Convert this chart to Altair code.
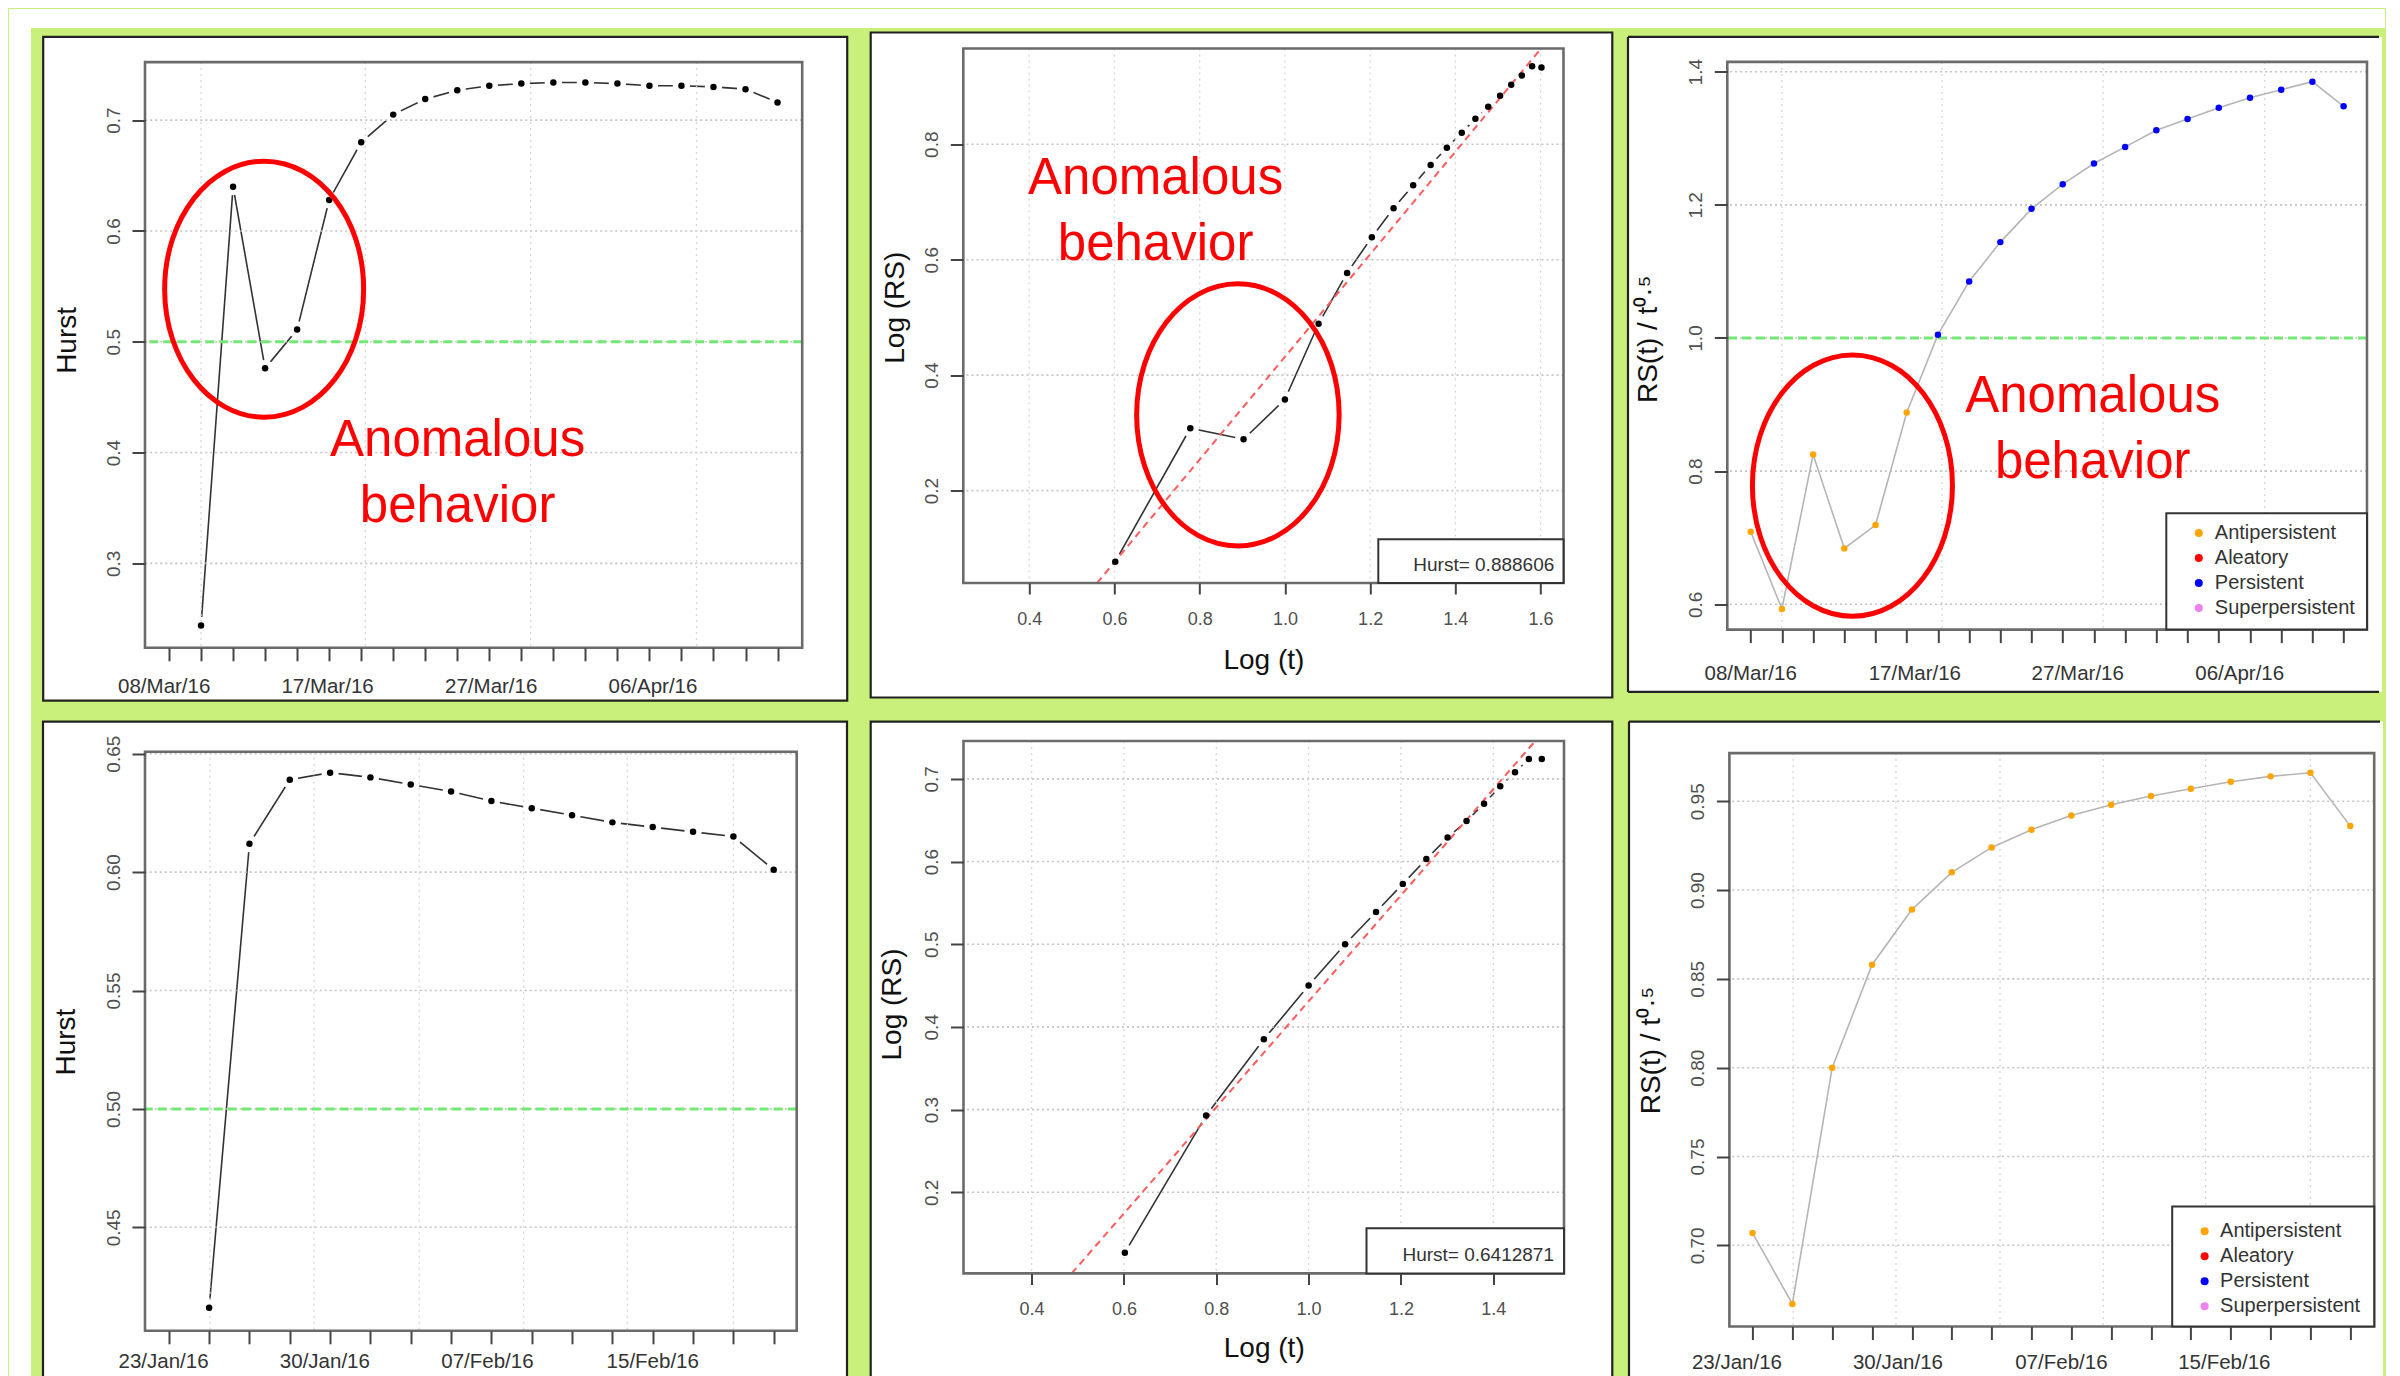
import altair as alt
import pandas as pd

FONT = "Liberation Sans"
BG_GREEN = "#c8f07a"
BORDER = "#222222"
FRAME = "#6b6b6b"
GRID_COL = "#c4c4c4"
REF_GREEN = "#74e874"
RED = "#ff0000"
FIT_RED = "#ff5c5c"
TICK_COL = "#444444"
LABEL_COL = "#505050"

# ---------------- data ----------------
# top row (time index panels, 2-day steps)
TOP_TICKS = list(range(0, 20))
TOP_VGRID = [1.0, 6.13, 11.29, 16.47]
TOP_DATES = ["08/Mar/16", "17/Mar/16", "27/Mar/16", "06/Apr/16"]
TL_DATE_POS = [-0.15, 4.95, 10.06, 15.11]
TR_DATE_POS = [0.0, 5.26, 10.48, 15.67]

TL_IDX = [1, 2, 3, 4, 5, 6, 7, 8, 9, 10, 11, 12, 13, 14, 15, 16, 17, 18, 19]
TL_HURST = [0.244, 0.640, 0.476, 0.511, 0.628, 0.680, 0.705, 0.719, 0.727, 0.731,
            0.733, 0.734, 0.734, 0.733, 0.731, 0.731, 0.730, 0.728, 0.716]
TL_YTICKS = [0.3, 0.4, 0.5, 0.6, 0.7]

TR_IDX = [0, 1, 2, 3, 4, 5, 6, 7, 8, 9, 10, 11, 12, 13, 14, 15, 16, 17, 18, 19]
TR_RATIO = [0.709, 0.593, 0.825, 0.684, 0.719, 0.888, 1.005, 1.085, 1.144, 1.194,
            1.231, 1.262, 1.287, 1.312, 1.329, 1.346, 1.361, 1.373, 1.385, 1.348]
TR_CLASS = ["Antipersistent", "Antipersistent", "Antipersistent", "Antipersistent",
            "Antipersistent", "Antipersistent", "Persistent", "Persistent", "Persistent",
            "Persistent", "Persistent", "Persistent", "Persistent", "Persistent",
            "Persistent", "Persistent", "Persistent", "Persistent", "Persistent", "Persistent"]
TR_YTICKS = [0.6, 0.8, 1.0, 1.2, 1.4]

TM_LOGT = [0.602, 0.778, 0.903, 1.000, 1.079, 1.146, 1.204, 1.255, 1.301, 1.342,
           1.380, 1.415, 1.447, 1.477, 1.505, 1.531, 1.556, 1.580, 1.602]
TM_LOGRS = [0.077, 0.308, 0.289, 0.358, 0.489, 0.577, 0.639, 0.689, 0.729, 0.764,
            0.794, 0.820, 0.844, 0.865, 0.884, 0.903, 0.919, 0.935, 0.933]
TM_XTICKS = [0.4, 0.6, 0.8, 1.0, 1.2, 1.4, 1.6]
TM_YTICKS = [0.2, 0.4, 0.6, 0.8]
HURST_TM = 0.888606
INTERCEPT_TM = -0.457

# bottom row
BOT_TICKS = list(range(0, 16))
BOT_VGRID = [1.02, 3.6, 6.21, 8.8, 11.37, 14.0]
BOT_DATES = ["23/Jan/16", "30/Jan/16", "07/Feb/16", "15/Feb/16"]
BL_DATE_POS = [-0.13, 3.87, 7.9, 12.0]
BR_DATE_POS = [-0.39, 3.65, 7.75, 11.84]

BL_IDX = [1, 2, 3, 4, 5, 6, 7, 8, 9, 10, 11, 12, 13, 14, 15]
BL_HURST = [0.416, 0.612, 0.639, 0.642, 0.640, 0.637, 0.634, 0.630, 0.627, 0.624,
            0.621, 0.619, 0.617, 0.615, 0.601]
BL_YTICKS = [0.45, 0.50, 0.55, 0.60, 0.65]

BR_IDX = [0, 1, 2, 3, 4, 5, 6, 7, 8, 9, 10, 11, 12, 13, 14, 15]
BR_RATIO = [0.707, 0.667, 0.800, 0.858, 0.889, 0.910, 0.924, 0.934, 0.942, 0.948,
            0.953, 0.957, 0.961, 0.964, 0.966, 0.936]
BR_CLASS = ["Antipersistent", "Antipersistent", "Antipersistent", "Antipersistent",
            "Antipersistent", "Antipersistent", "Antipersistent", "Antipersistent",
            "Antipersistent", "Antipersistent", "Antipersistent", "Antipersistent",
            "Antipersistent", "Antipersistent", "Antipersistent", "Antipersistent"]
BR_YTICKS = [0.70, 0.75, 0.80, 0.85, 0.90, 0.95]

BM_LOGT = [0.602, 0.778, 0.903, 1.000, 1.079, 1.146, 1.204, 1.255, 1.301, 1.342,
           1.380, 1.415, 1.447, 1.477, 1.505]
BM_LOGRS = [0.127, 0.293, 0.385, 0.450, 0.500, 0.539, 0.573, 0.603, 0.629, 0.649,
            0.670, 0.691, 0.708, 0.724, 0.724]
BM_XTICKS = [0.4, 0.6, 0.8, 1.0, 1.2, 1.4]
BM_YTICKS = [0.2, 0.3, 0.4, 0.5, 0.6, 0.7]
HURST_BM = 0.6412871
INTERCEPT_BM = -0.2103

CATS = ["Antipersistent", "Aleatory", "Persistent", "Superpersistent"]
CAT_COLORS = ["#FFA500", "#FF0000", "#0000FF", "#EE82EE"]

NOTE_LINE1 = "Anomalous"
NOTE_LINE2 = "behavior"

ONE = pd.DataFrame({"k": [0]})

# page layout (pixels): plot origins and the white page-margin strips
ROW_Y = [49.0, 743.0]          # group origin (top of view) of each row
COL0_X = 144.0                 # origin of the left column
PAGE_RIGHT = 2384.0
ROW_GAP = -3.5                 # vertical concat spacing (compensates layout rounding)


# ---------------- helpers ----------------
def deco_rect(x0, x1, y0, y1, **kw):
    return alt.Chart(ONE).mark_rect(**kw).encode(
        x=alt.value(x0), x2=alt.value(x1), y=alt.value(y0), y2=alt.value(y1))


def deco_line(x0, y0, x1, y1, **kw):
    return alt.Chart(ONE).mark_rule(**kw).encode(
        x=alt.value(x0), x2=alt.value(x1), y=alt.value(y0), y2=alt.value(y1))


def y_axis(values, fmt, title, tx, ty):
    return alt.Axis(values=values, format=fmt, title=title, grid=False, domain=False,
                    ticks=True, tickSize=13, tickWidth=2, tickColor=TICK_COL,
                    labelFont=FONT, labelFontSize=19, labelColor=LABEL_COL,
                    labelAngle=270, labelAlign="center", labelBaseline="bottom",
                    labelPadding=9, labelOverlap=False,
                    titleFont=FONT, titleFontSize=28, titleFontWeight="normal",
                    titleColor="#111111", titleAngle=270, titleX=tx, titleY=ty,
                    titleAlign="center", titleBaseline="middle", zindex=1)


def ellipse_shape(rx):
    a = round(4 * rx, 4)
    return f"M {-a} 0 A {a} 4 0 0 1 {a} 0 A {a} 4 0 0 1 {-a} 0 Z"


def build_panel(c):
    w, h, ext = c["w"], c["h"], c.get("ext", 0.0)
    H = h + ext
    y_lo, y_hi = c["ydom"]
    y_top = y_hi + ext * (y_hi - y_lo) / h          # view extended upward by ext px
    xs = alt.Scale(domain=c["xdom"], nice=False, zero=False)
    ys = alt.Scale(domain=[y_lo, y_top], nice=False, zero=False)
    xaxis = c["xaxis"]
    yaxis = y_axis(c["yticks"], c["yfmt"], c["ytitle"], c["ytx"], c["yty"] + ext)

    def X(f):
        return alt.X(f, type="quantitative", scale=xs, axis=xaxis)

    def Y(f):
        return alt.Y(f, type="quantitative", scale=ys, axis=yaxis)

    layers = []
    ox, oy = c["origin_x"], ROW_Y[c["row"]]
    for (px0, px1, py0, py1) in c.get("strips", []):
        layers.append(deco_rect(px0 - ox, px1 - ox, py0 - oy, py1 - oy, fill="white"))

    x0, x1, r0, r1 = c["rect"]
    y0, y1 = r0 + ext, r1 + ext
    if c.get("open_right"):
        xr = PAGE_RIGHT - ox
        layers.append(deco_rect(x0, xr, y0, y1, fill="white"))
        layers.append(deco_line(x0, y0, x0, y1, color=BORDER, strokeWidth=2.2))
        layers.append(deco_line(x0, y0, xr - 3, y0, color=BORDER, strokeWidth=2.2))
        if c.get("bottom_border"):
            layers.append(deco_line(x0, y1, xr - 3, y1, color=BORDER, strokeWidth=2.2))
    else:
        layers.append(deco_rect(x0, x1, y0, y1, fill="white", stroke=BORDER, strokeWidth=2.2))

    series = pd.DataFrame({"x": c["sx"], "y": c["sy"]})
    if c["kind"] == "black":
        layers.append(alt.Chart(series).mark_line(color="#333333", strokeWidth=1.6).encode(
            x=X("x"), y=Y("y")))
        layers.append(alt.Chart(series).mark_circle(color="white", size=300, opacity=1).encode(
            x=X("x"), y=Y("y")))

    # grid
    layers.append(alt.Chart(pd.DataFrame({"g": c["yticks"]})).mark_rule(
        color=GRID_COL, strokeDash=[2, 3], strokeWidth=1.6).encode(y=Y("g")))
    layers.append(alt.Chart(pd.DataFrame({"g": c["vgrid"]})).mark_rule(
        color="#d6d6d6", strokeDash=[2, 4], strokeWidth=1.3).encode(
        x=X("g"), y=alt.value(ext), y2=alt.value(H)))

    if c.get("ref") is not None:
        layers.append(alt.Chart(pd.DataFrame({"r": [c["ref"]]})).mark_rule(
            color=REF_GREEN, strokeDash=[9, 5], strokeWidth=3).encode(y=Y("r")))

    if c.get("fit") is not None:
        hurst, icpt = c["fit"]
        fx = [max(c["xdom"][0], (y_lo - icpt) / hurst), min(c["xdom"][1], (y_hi - icpt) / hurst)]
        fit = pd.DataFrame({"x": fx, "y": [icpt + hurst * v for v in fx]})
        layers.append(alt.Chart(fit).mark_line(color=FIT_RED, strokeDash=[7, 5],
                                               strokeWidth=2).encode(x=X("x"), y=Y("y")))

    if c["kind"] == "black":
        layers.append(alt.Chart(series).mark_circle(color="black", size=42, opacity=1).encode(
            x=X("x"), y=Y("y")))
    else:
        series["cls"] = c["classes"]
        layers.append(alt.Chart(series).mark_line(color="#b5b5b5", strokeWidth=1.6).encode(
            x=X("x"), y=Y("y")))
        lx, ly, lo = c["legend_xy"]
        layers.append(alt.Chart(series).mark_circle(size=42, opacity=1).encode(
            x=X("x"), y=Y("y"),
            color=alt.Color("cls:N", scale=alt.Scale(domain=CATS, range=CAT_COLORS),
                            legend=alt.Legend(title=None, orient="none", legendX=lx,
                                              legendY=ly + ext, padding=0, labelFont=FONT,
                                              labelFontSize=20, labelColor="#333333",
                                              symbolType="circle", symbolSize=64,
                                              symbolStrokeWidth=0, rowPadding=5,
                                              labelOffset=lo, zindex=1))))

    # date labels
    if c.get("dates") is not None:
        dl = pd.DataFrame({"pos": c["date_pos"], "lab": c["dates"]})
        layers.append(alt.Chart(dl).mark_text(font=FONT, fontSize=20.5, color="#333333",
                                              align="center", baseline="middle").encode(
            x=X("pos"), y=alt.value(H + c["date_dy"]), text="lab:N"))

    # plot frame
    layers.append(deco_rect(0, w, ext, H, fill="white", fillOpacity=0, stroke=FRAME,
                            strokeWidth=2.6))

    # legend box
    if c.get("lbox") is not None:
        bx, by = c["lbox"]
        layers.append(deco_rect(bx, w, by + ext, H, fill="white", stroke="#333333",
                                strokeWidth=2))
    if c.get("hurst_text") is not None:
        txt, tx, ty = c["hurst_text"]
        layers.append(alt.Chart(ONE).mark_text(text=txt, font=FONT, fontSize=19,
                                               color="#333333", align="right",
                                               baseline="alphabetic").encode(
            x=alt.value(tx), y=alt.value(ty + ext)))

    # annotation
    if c.get("ellipse") is not None:
        ex, ey, ew, eh = c["ellipse"]
        layers.append(alt.Chart(pd.DataFrame({"x": [ex], "y": [ey]})).mark_point(
            shape=ellipse_shape(ew / eh), size=(eh / 4) ** 2, filled=False, color=RED,
            stroke=RED, strokeWidth=5, opacity=1).encode(x=X("x"), y=Y("y")))
    if c.get("note") is not None:
        nx, ny = c["note"]
        nd = pd.DataFrame({"x": [nx], "y": [ny]})
        layers.append(alt.Chart(nd).mark_text(
            text=NOTE_LINE1, font=FONT, fontSize=51, color=RED, align="center",
            baseline="alphabetic").encode(x=X("x"), y=Y("y")))
        layers.append(alt.Chart(nd).mark_text(
            text=NOTE_LINE2, font=FONT, fontSize=51, color=RED, align="center",
            baseline="alphabetic", dy=66.5).encode(x=X("x"), y=Y("y")))

    return alt.layer(*layers).properties(width=w, height=H)


def idx_axis(values):
    return alt.Axis(values=values, labels=False, title=None, grid=False, domain=False,
                    ticks=True, tickSize=13, tickWidth=2, tickColor=TICK_COL, zindex=1)


def log_axis(values, w, ty):
    return alt.Axis(values=values, format=".1f", title="Log (t)", grid=False, domain=False,
                    ticks=True, tickSize=11, tickWidth=2, tickColor=TICK_COL,
                    labelFont=FONT, labelFontSize=18, labelColor=LABEL_COL,
                    labelPadding=16, labelFlush=False,
                    titleFont=FONT, titleFontSize=28, titleFontWeight="normal",
                    titleColor="#111111", titleX=w / 2, titleY=ty,
                    titleAlign="center", titleBaseline="middle", zindex=1)


RATIO_TITLE = "RS(t) / t\u2070\u00b7\u2075"

# ---------------- panels ----------------
# white band along the top of the page (a thin chart of its own)
BAND = deco_rect(8.0 - COL0_X, PAGE_RIGHT - COL0_X, 0, 19, fill="white").properties(
    width=1, height=1)

w, h = 657.2, 585.7
TL = build_panel(dict(
    w=w, h=h, ext=13.6, row=0, origin_x=COL0_X, kind="black",
    strips=[(8.0, 30.0, 27.0, 712.0)],
    xdom=[-0.75, 19.77], ydom=[0.2238, 0.7524],
    xaxis=idx_axis(TOP_TICKS), yticks=TL_YTICKS, yfmt=".1f", ytitle="Hurst",
    ytx=-77.7, yty=277.8, rect=(-101.8, w + 45.0, -25.2, h + 52.9),
    sx=TL_IDX, sy=TL_HURST, vgrid=TOP_VGRID, ref=0.5,
    dates=TOP_DATES, date_pos=TL_DATE_POS, date_dy=38.7,
    ellipse=(2.97, 0.5475, 199, 256), note=(9.01, 0.3972)))

w, h = 600.2, 534.5
TM = build_panel(dict(
    w=w, h=h, ext=0.0, row=0, origin_x=963.3, kind="black",
    xdom=[0.2454, 1.6537], ydom=[0.0400, 0.9658],
    xaxis=log_axis(TM_XTICKS, w, 77.2), yticks=TM_YTICKS, yfmt=".1f", ytitle="Log (RS)",
    ytx=-68.3, yty=258.7, rect=(-92.6, w + 48.8, -16.0, h + 114.5),
    sx=TM_LOGT, sy=TM_LOGRS, vgrid=TM_XTICKS, fit=(HURST_TM, INTERCEPT_TM),
    lbox=(415.0, 490.7), hurst_text=(f"Hurst= {HURST_TM}", w - 9.2, h - 12.1),
    ellipse=(0.8897, 0.3312, 202.5, 262.2), note=(0.6966, 0.7142)))

w, h = 639.7, 567.7
TR = build_panel(dict(
    w=w, h=h, ext=13.4, row=0, origin_x=1729.3, kind="ratio",
    xdom=[-0.75, 19.75], ydom=[0.562, 1.4147],
    xaxis=idx_axis(TOP_TICKS), yticks=TR_YTICKS, yfmt=".1f", ytitle=RATIO_TITLE,
    ytx=-79.3, yty=277.0, rect=(-99.3, w, -25.0, h + 62.3),
    open_right=True, bottom_border=True,
    sx=TR_IDX, sy=TR_RATIO, classes=TR_CLASS, vgrid=TOP_VGRID, ref=1.0,
    dates=TOP_DATES, date_pos=TR_DATE_POS, date_dy=44.3,
    lbox=(439.0, 451.3), legend_xy=(461.5, 461.1, 6),
    ellipse=(3.26, 0.7782, 200, 261.3), note=(10.96, 0.8894)))

w, h = 651.7, 579.0
BL = build_panel(dict(
    w=w, h=h, ext=10.8, row=1, origin_x=COL0_X, kind="black",
    strips=[(8.0, 30.0, 712.0, 1420.0)],
    xdom=[-0.59, 15.57], ydom=[0.4063, 0.6508],
    xaxis=idx_axis(BOT_TICKS), yticks=BL_YTICKS, yfmt=".2f", ytitle="Hurst",
    ytx=-79.0, yty=289.8, rect=(-102.0, w + 50.3, -30.2, h + 60),
    sx=BL_IDX, sy=BL_HURST, vgrid=BOT_VGRID, ref=0.5,
    dates=BOT_DATES, date_pos=BL_DATE_POS, date_dy=31.5))

w, h = 600.5, 532.4
BM = build_panel(dict(
    w=w, h=h, ext=0.0, row=1, origin_x=963.5, kind="black",
    xdom=[0.2525, 1.5531], ydom=[0.1019, 0.7458],
    xaxis=log_axis(BM_XTICKS, w, 75.4), yticks=BM_YTICKS, yfmt=".1f", ytitle="Log (RS)",
    ytx=-71.5, yty=263.0, rect=(-92.8, w + 48.3, -19.4, h + 130),
    sx=BM_LOGT, sy=BM_LOGRS, vgrid=BM_XTICKS, fit=(HURST_BM, INTERCEPT_BM),
    lbox=(403.0, 487.2), hurst_text=(f"Hurst= {HURST_BM}", w - 10.0, h - 12.3)))

w, h = 644.8, 573.4
BR = build_panel(dict(
    w=w, h=h, ext=12.1, row=1, origin_x=1730.4, kind="ratio",
    xdom=[-0.58, 15.6], ydom=[0.6543, 0.9771],
    xaxis=idx_axis(BOT_TICKS), yticks=BR_YTICKS, yfmt=".2f", ytitle=RATIO_TITLE,
    ytx=-78.1, yty=297.0, rect=(-100.4, w, -31.5, h + 60),
    open_right=True, bottom_border=False,
    sx=BR_IDX, sy=BR_RATIO, classes=BR_CLASS, vgrid=BOT_VGRID,
    dates=BOT_DATES, date_pos=BR_DATE_POS, date_dy=36.0,
    lbox=(442.8, 453.4), legend_xy=(465.2, 468.1, 5.5)))


def indep(ch):
    return ch.resolve_scale(color="independent").resolve_legend(color="independent")


row1 = indep(alt.hconcat(TL, indep(alt.hconcat(TM, TR, spacing=12)), spacing=19.3))
row2 = indep(alt.hconcat(BL, indep(alt.hconcat(BM, BR, spacing=12.9)), spacing=19.5))

chart = indep(alt.vconcat(BAND, row1, row2, spacing=ROW_GAP)).properties(
    background=BG_GREEN,
    padding={"left": 0, "top": 0, "right": 0, "bottom": 0},
).configure(font=FONT).configure_view(stroke="transparent")

chart.save("out.html", embed_options={"renderer": "svg", "actions": False})
